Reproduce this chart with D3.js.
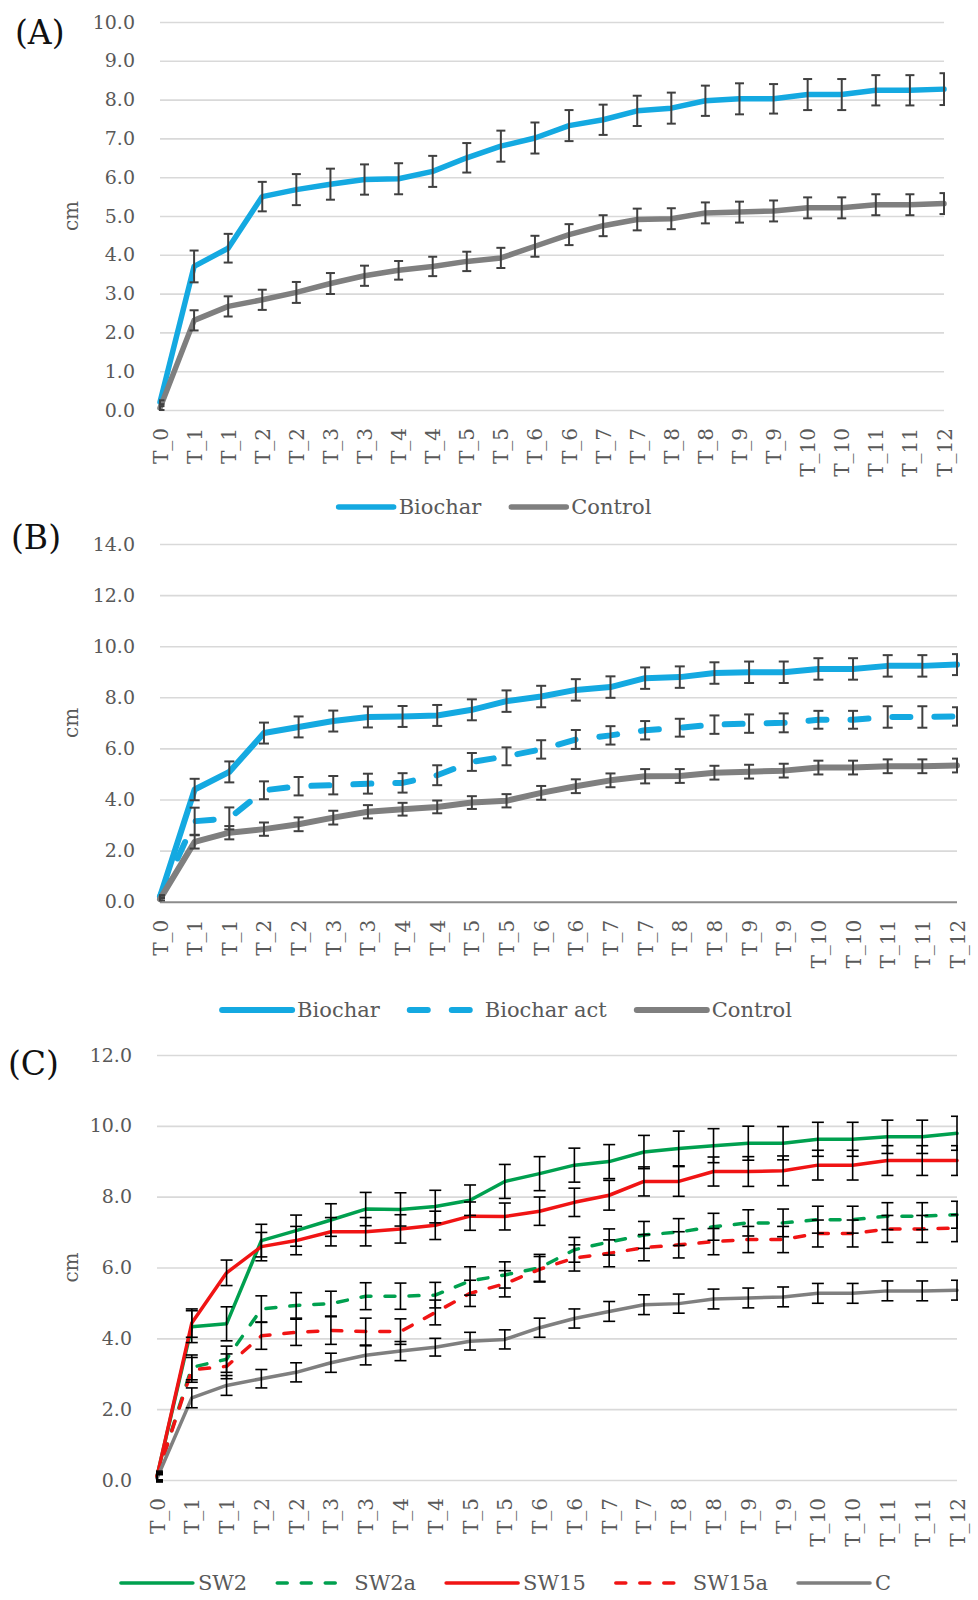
<!DOCTYPE html>
<html>
<head>
<meta charset="utf-8">
<script src="https://cdn.jsdelivr.net/npm/d3@7"></script>
<style>
  body { margin: 0; background: #fff; }
  svg text { font-family: "DejaVu Serif", serif; fill: #595959; }
</style>
</head>
<body>
<svg id="chart" width="978" height="1600"></svg>
<script>
var times = ["T_0", "T_1", "T_1", "T_2", "T_2", "T_3", "T_3", "T_4", "T_4", "T_5", "T_5", "T_6",
             "T_6", "T_7", "T_7", "T_8", "T_8", "T_9", "T_9", "T_10", "T_10", "T_11", "T_11", "T_12"];

// (A)
var aBiochar = [0.2, 3.70, 4.17, 5.50, 5.68, 5.82, 5.94, 5.96, 6.15, 6.50, 6.80, 7.01, 7.33, 7.48, 7.71, 7.78, 7.97, 8.02, 8.02, 8.13, 8.13, 8.24, 8.24, 8.27];
var aBiocharErr = [0.05, 0.41, 0.37, 0.38, 0.40, 0.40, 0.39, 0.40, 0.40, 0.38, 0.40, 0.40, 0.40, 0.39, 0.39, 0.40, 0.39, 0.40, 0.38, 0.40, 0.40, 0.39, 0.39, 0.41];
var aControl = [0.05, 2.31, 2.67, 2.84, 3.03, 3.26, 3.46, 3.60, 3.70, 3.83, 3.92, 4.22, 4.52, 4.75, 4.91, 4.93, 5.08, 5.10, 5.13, 5.21, 5.21, 5.29, 5.29, 5.32];
var aControlErr = [0.05, 0.26, 0.26, 0.26, 0.27, 0.27, 0.26, 0.24, 0.25, 0.25, 0.26, 0.27, 0.27, 0.27, 0.28, 0.27, 0.27, 0.27, 0.27, 0.27, 0.27, 0.27, 0.27, 0.27];

// (B)
var bBiochar = [0.2, 4.39, 5.08, 6.60, 6.84, 7.07, 7.23, 7.25, 7.29, 7.51, 7.85, 8.03, 8.29, 8.40, 8.75, 8.79, 8.95, 8.98, 8.98, 9.11, 9.11, 9.23, 9.23, 9.28];
var bBiocharErr = [0.05, 0.42, 0.41, 0.41, 0.41, 0.41, 0.41, 0.41, 0.41, 0.41, 0.42, 0.42, 0.42, 0.42, 0.42, 0.42, 0.42, 0.42, 0.42, 0.42, 0.42, 0.42, 0.42, 0.41];
var bBiocharAct = [0.2, 3.15, 3.26, 4.36, 4.52, 4.56, 4.62, 4.65, 4.95, 5.47, 5.69, 5.96, 6.35, 6.51, 6.71, 6.81, 6.93, 6.97, 7.00, 7.12, 7.12, 7.23, 7.23, 7.25];
var bBiocharActErr = [0.05, 0.53, 0.43, 0.35, 0.36, 0.36, 0.39, 0.38, 0.39, 0.35, 0.35, 0.36, 0.37, 0.36, 0.36, 0.35, 0.36, 0.36, 0.37, 0.35, 0.35, 0.42, 0.42, 0.36];
var bControl = [0.1, 2.34, 2.70, 2.84, 3.03, 3.29, 3.52, 3.62, 3.71, 3.88, 3.95, 4.26, 4.52, 4.75, 4.91, 4.92, 5.05, 5.09, 5.13, 5.25, 5.25, 5.30, 5.30, 5.33];
var bControlErr = [0.05, 0.26, 0.26, 0.26, 0.27, 0.27, 0.26, 0.25, 0.25, 0.25, 0.26, 0.27, 0.27, 0.27, 0.28, 0.27, 0.27, 0.27, 0.27, 0.27, 0.27, 0.27, 0.27, 0.27];

// (C)
var cSW2 = [0.1, 4.33, 4.41, 6.76, 7.04, 7.34, 7.65, 7.64, 7.72, 7.90, 8.43, 8.65, 8.89, 8.99, 9.26, 9.36, 9.44, 9.51, 9.51, 9.62, 9.62, 9.69, 9.69, 9.79];
var cSW2Err = [0.15, 0.45, 0.48, 0.46, 0.44, 0.46, 0.47, 0.47, 0.46, 0.43, 0.48, 0.48, 0.48, 0.48, 0.47, 0.49, 0.48, 0.48, 0.47, 0.48, 0.48, 0.47, 0.47, 0.48];
var cSW2a = [0.1, 3.18, 3.41, 4.83, 4.93, 4.98, 5.19, 5.19, 5.22, 5.62, 5.79, 5.99, 6.50, 6.72, 6.92, 7.00, 7.15, 7.26, 7.26, 7.35, 7.35, 7.45, 7.45, 7.49];
var cSW2aErr = [0.1, 0.35, 0.37, 0.37, 0.36, 0.35, 0.38, 0.37, 0.36, 0.40, 0.37, 0.38, 0.35, 0.37, 0.38, 0.38, 0.38, 0.37, 0.39, 0.38, 0.38, 0.38, 0.38, 0.38];
var cSW15 = [0.1, 4.43, 5.85, 6.59, 6.76, 7.01, 7.01, 7.09, 7.19, 7.45, 7.44, 7.59, 7.84, 8.04, 8.43, 8.43, 8.71, 8.71, 8.73, 8.89, 8.89, 9.02, 9.02, 9.02];
var cSW15Err = [0.1, 0.40, 0.36, 0.40, 0.40, 0.40, 0.40, 0.40, 0.40, 0.40, 0.38, 0.40, 0.40, 0.42, 0.41, 0.42, 0.41, 0.42, 0.42, 0.42, 0.42, 0.42, 0.42, 0.42];
var cSW15a = [0.1, 3.11, 3.21, 4.07, 4.17, 4.22, 4.19, 4.19, 4.73, 5.27, 5.54, 5.95, 6.27, 6.40, 6.56, 6.64, 6.73, 6.79, 6.79, 6.96, 6.96, 7.09, 7.09, 7.11];
var cSW15aErr = [0.1, 0.35, 0.35, 0.38, 0.37, 0.39, 0.38, 0.36, 0.35, 0.37, 0.37, 0.36, 0.37, 0.38, 0.37, 0.37, 0.37, 0.37, 0.37, 0.38, 0.38, 0.38, 0.38, 0.38];
var cC = [0.05, 2.32, 2.67, 2.86, 3.04, 3.31, 3.52, 3.64, 3.75, 3.92, 3.97, 4.30, 4.56, 4.76, 4.95, 4.98, 5.11, 5.14, 5.17, 5.27, 5.27, 5.34, 5.34, 5.36];
var cCErr = [0.1, 0.28, 0.28, 0.26, 0.27, 0.27, 0.27, 0.27, 0.25, 0.25, 0.27, 0.27, 0.27, 0.28, 0.28, 0.27, 0.28, 0.28, 0.28, 0.28, 0.28, 0.28, 0.28, 0.28];

var blue = "#14a9e1", gray = "#7f7f7f", green = "#00a04f", red = "#f01414";

var svg = d3.select("#chart");

drawPanel({
  id: "a", label: "(A)", labelX: 15, labelY: 32,
  left: 160, right: 944, top: 22, bottom: 410, max: 10, step: 1,
  lineWidth: 5.5, errColor: "#404040", errWidth: 2, cap: 9, dash: "18,24",
  legendY: 507, legendX: 495, legendLen: 55,
  series: [
    { name: "Biochar", values: aBiochar, err: aBiocharErr, color: blue },
    { name: "Control", values: aControl, err: aControlErr, color: gray }
  ]
});

drawPanel({
  id: "b", label: "(B)", labelX: 11, labelY: 537,
  left: 160, right: 957, top: 544, bottom: 901.7, max: 14, step: 2, darkBase: true,
  lineWidth: 6, errColor: "#404040", errWidth: 2, cap: 10, dash: "18,24",
  legendY: 1010, legendX: 507, legendLen: 70,
  series: [
    { name: "Biochar", values: bBiochar, err: bBiocharErr, color: blue },
    { name: "Biochar act", values: bBiocharAct, err: bBiocharActErr, color: blue, dashed: true },
    { name: "Control", values: bControl, err: bControlErr, color: gray }
  ]
});

drawPanel({
  id: "c", label: "(C)", labelX: 8, labelY: 1063,
  left: 157, right: 957, top: 1055, bottom: 1480, max: 12, step: 2,
  lineWidth: 3.5, errColor: "#000", errWidth: 1.6, cap: 12, dash: "10,14",
  legendY: 1583, legendX: 506, legendLen: 72,
  series: [
    { name: "SW2", values: cSW2, err: cSW2Err, color: green },
    { name: "SW2a", values: cSW2a, err: cSW2aErr, color: green, dashed: true },
    { name: "SW15", values: cSW15, err: cSW15Err, color: red },
    { name: "SW15a", values: cSW15a, err: cSW15aErr, color: red, dashed: true },
    { name: "C", values: cC, err: cCErr, color: gray }
  ]
});

function drawPanel(p) {
  var x = d3.scalePoint()
            .domain(d3.range(times.length))
            .range([p.left, p.right]);

  var y = d3.scaleLinear()
            .domain([0, p.max])
            .range([p.bottom, p.top]);

  var g = svg.append("g");

  // grid lines + y labels
  var yAxis = g.append("g")
      .attr("transform", "translate(" + p.left + ",0)")
      .call(d3.axisLeft(y)
              .tickValues(d3.range(0, p.max + 0.001, p.step))
              .tickSize(-(p.right - p.left))
              .tickPadding(25)
              .tickFormat(d3.format(".1f")));
  yAxis.select(".domain").remove();
  yAxis.selectAll(".tick line")
      .attr("stroke", d => (p.darkBase && d === 0) ? "#8c8c8c" : "#d9d9d9")
      .attr("stroke-width", d => (p.darkBase && d === 0) ? 2 : 1.6);
  yAxis.selectAll(".tick text")
      .attr("font-size", "19px")
      .attr("fill", "#595959");

  // x labels
  var xAxis = g.append("g")
      .attr("transform", "translate(0," + p.bottom + ")")
      .call(d3.axisBottom(x)
              .tickSize(0)
              .tickFormat(i => times[i]));
  xAxis.select(".domain").remove();
  xAxis.selectAll(".tick text")
      .attr("transform", "rotate(-90)")
      .attr("x", -18)
      .attr("y", 0)
      .attr("dy", "0.35em")
      .attr("font-size", "20px")
      .attr("fill", "#595959")
      .style("text-anchor", "end");

  // axis title + panel label
  g.append("text")
      .attr("transform", "translate(71," + (p.top + p.bottom) / 2 + ") rotate(-90)")
      .attr("dy", "0.35em")
      .style("text-anchor", "middle")
      .style("font-size", "20px")
      .text("cm");

  g.append("text")
      .attr("x", p.labelX)
      .attr("y", p.labelY)
      .attr("dy", "0.35em")
      .style("font-size", "33px")
      .style("fill", "#111")
      .text(p.label);

  var line = d3.line()
               .x((d, i) => x(i))
               .y(d => y(d));

  g.selectAll(".series")
    .data(p.series)
    .enter()
    .append("path")
      .classed("series", true)
      .attr("d", d => line(d.values))
      .attr("fill", "none")
      .attr("stroke", d => d.color)
      .attr("stroke-width", p.lineWidth)
      .attr("stroke-linejoin", "round")
      .attr("stroke-linecap", "round")
      .attr("stroke-dasharray", d => d.dashed ? p.dash : null);

  // error bars, clipped to the plot like the original
  g.append("clipPath")
      .attr("id", "clip-" + p.id)
    .append("rect")
      .attr("x", p.left - 1)
      .attr("y", 0)
      .attr("width", p.right - p.left + 2)
      .attr("height", 1600);

  var bars = [];
  p.series.forEach(s => {
    s.values.forEach((v, i) => bars.push({ i: i, v: v, e: s.err[i] }));
  });

  var eb = g.append("g")
      .attr("clip-path", "url(#clip-" + p.id + ")")
      .attr("stroke", p.errColor)
      .attr("stroke-width", p.errWidth)
    .selectAll("g")
    .data(bars)
    .enter()
    .append("g");

  eb.append("line")
      .attr("x1", d => x(d.i)).attr("x2", d => x(d.i))
      .attr("y1", d => y(d.v - d.e)).attr("y2", d => y(d.v + d.e));
  eb.append("line")
      .attr("x1", d => x(d.i) - p.cap / 2).attr("x2", d => x(d.i) + p.cap / 2)
      .attr("y1", d => y(d.v + d.e)).attr("y2", d => y(d.v + d.e));
  eb.append("line")
      .attr("x1", d => x(d.i) - p.cap / 2).attr("x2", d => x(d.i) + p.cap / 2)
      .attr("y1", d => y(d.v - d.e)).attr("y2", d => y(d.v - d.e));

  // legend
  var leg = g.append("g");
  var pos = 0;
  p.series.forEach(s => {
    var item = leg.append("g").attr("transform", "translate(" + pos + ",0)");
    item.append("line")
        .attr("x1", 0).attr("x2", p.legendLen)
        .attr("stroke", s.color)
        .attr("stroke-width", p.lineWidth)
        .attr("stroke-linecap", "round")
        .attr("stroke-dasharray", s.dashed ? p.dash : null);
    var t = item.append("text")
        .attr("x", p.legendLen + 5)
        .attr("dy", "0.35em")
        .style("font-size", "21px")
        .text(s.name);
    pos += p.legendLen + 5 + t.node().getComputedTextLength() + 30;
  });
  pos -= 30;
  leg.attr("transform", "translate(" + (p.legendX - pos / 2) + "," + p.legendY + ")");
}
</script>
</body>
</html>
